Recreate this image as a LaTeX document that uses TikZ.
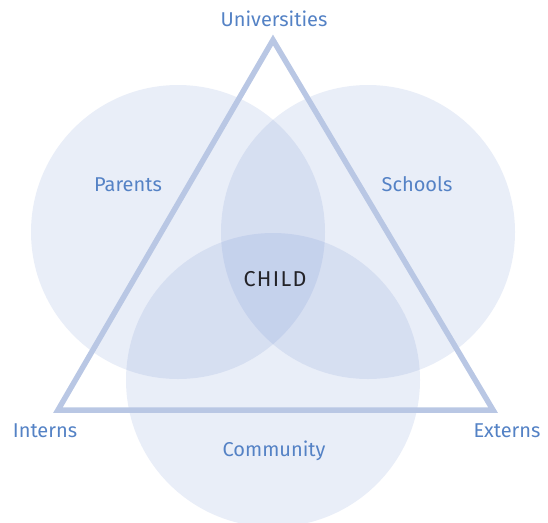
\documentclass[tikz,border=0pt]{standalone}
\usepackage{fontspec}
\setmainfont{Fira Sans}
\definecolor{ringblue}{RGB}{90,125,200}
\definecolor{edgeblue}{RGB}{185,199,228}
\definecolor{labelblue}{RGB}{84,130,197}
\definecolor{childtext}{RGB}{35,35,40}
\tikzset{
  ring/.style={fill=ringblue,fill opacity=0.133},
  label/.style={text=labelblue,font=\fontsize{20}{24}\selectfont,inner sep=0pt},
}
\begin{document}
\begin{tikzpicture}[x=1pt,y=-1pt]
    \useasboundingbox (0,0) rectangle (548,522);
    % the three circles
    \fill[ring] (178,232) circle [radius=147];
    \fill[ring] (368,232) circle [radius=147];
    \fill[ring] (273,380) circle [radius=147];
    % triangle
    \coordinate (top) at (273,40);
    \coordinate (bl) at (58,410);
    \coordinate (br) at (493,410);
    \draw[edgeblue,line width=5.5,line join=miter] (top)--(br)--(bl)--cycle;
    % labels
    \node[label] (univ) at (274,19) {Universities};
    \node[label] (parents) at (128,185) {Parents};
    \node[label] (schools) at (417,184) {Schools};
    \node[label] (interns) at (45,431) {Interns};
    \node[label] (externs) at (507,431) {Externs};
    \node[label] (community) at (274,451) {Community};
    \node[label,text=childtext,font=\fontsize{21.5}{24}\selectfont\addfontfeature{LetterSpace=6}] (child) at (275,279) {CHILD};
\end{tikzpicture}
\end{document}
